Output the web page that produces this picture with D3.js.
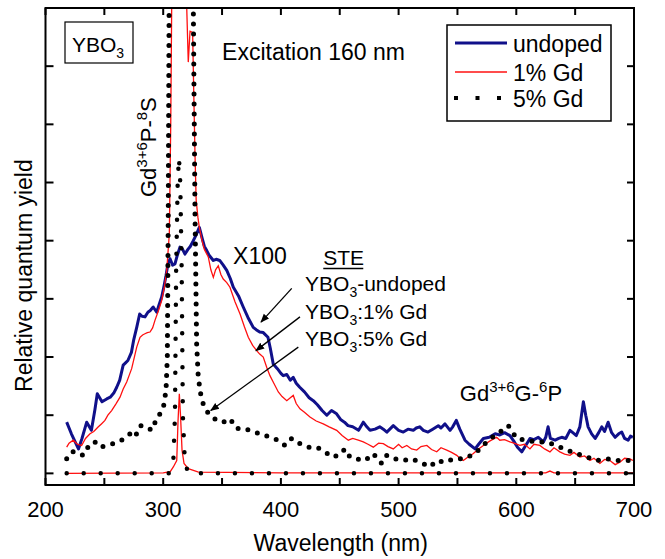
<!DOCTYPE html>
<html>
<head>
<meta charset="utf-8">
<script src="https://cdn.jsdelivr.net/npm/d3@7"></script>
<style>
  body { margin: 0; background: #fff; }
  text { font-family: "Liberation Sans", Arial, sans-serif; fill: #000; }
</style>
</head>
<body>
<div id="chart"></div>
<script>
// x ticks, y ticks (no labels on y)
var xTicks = [200, 250, 300, 350, 400, 450, 500, 550, 600, 650, 700];
var xLabels = [200, 300, 400, 500, 600, 700];
var yTicks = [0, 1, 2, 3, 4, 5, 6, 7, 8];

// YBO3 undoped, x100 (nm, yield)
var undoped = [[218,0.88],[222,0.68],[225,0.55],[228,0.42],[231,0.6],[235,0.88],[239,0.74],[242,1.1],[244,1.37],[246,1.3],[248,1.23],[252,1.28],[255,1.31],[258,1.38],[260.5,1.48],[263,1.6],[266,1.86],[268,1.9],[270,1.94],[273,2.08],[275,2.3],[277.5,2.51],[280,2.74],[282,2.7],[284.5,2.69],[287,2.77],[289,2.8],[291.5,2.86],[294.5,2.77],[296.5,2.9],[298.7,3.03],[300.5,3.2],[302.4,3.4],[304,3.6],[305.8,3.69],[308,3.58],[310,3.6],[312,3.75],[314.3,3.89],[316.5,3.85],[318.5,3.77],[321,3.85],[323,3.9],[325.6,4.0],[328,4.1],[330.7,4.23],[333,4.05],[335,3.9],[337,3.83],[339,3.75],[342.6,3.66],[345,3.68],[348,3.66],[351,3.58],[354,3.49],[357,3.35],[359.6,3.2],[364,3.05],[368,2.86],[372,2.68],[376.5,2.51],[379,2.47],[382,2.43],[385,2.42],[389,2.34],[391,2.15],[393.5,1.88],[397,1.8],[400,1.72],[402,1.68],[405,1.7],[408,1.6],[410.5,1.65],[413,1.55],[416,1.48],[420,1.4],[424,1.3],[427.5,1.25],[431,1.18],[435,1.08],[439,1.0],[443,1.08],[447,1.03],[451,0.92],[454,0.88],[457,0.82],[461,0.8],[466,0.74],[470,0.88],[473,0.8],[475.7,0.74],[480,0.76],[484,0.8],[487,0.76],[490,0.71],[495.5,0.82],[500,0.74],[504,0.71],[508,0.76],[512.5,0.74],[515,0.78],[518,0.8],[521,0.74],[525,0.71],[529,0.76],[533.7,0.82],[536,0.78],[539.4,0.85],[543.7,0.74],[546,0.8],[549,0.91],[552,0.76],[556.4,0.57],[560,0.5],[565,0.42],[568,0.5],[572,0.6],[577,0.62],[582,0.68],[586,0.66],[590,0.7],[594.6,0.65],[598,0.55],[601,0.45],[604.6,0.37],[608,0.48],[611.6,0.6],[615,0.58],[618.7,0.62],[623,0.54],[625,0.62],[627,0.8],[629,0.6],[633,0.57],[636,0.6],[638.6,0.62],[642,0.6],[645.6,0.74],[648,0.7],[651,0.65],[654,0.8],[657,1.23],[659,1.0],[661,0.8],[664,0.68],[667,0.6],[670,0.7],[672.6,0.8],[675,0.72],[678,0.88],[681,0.7],[684,0.62],[687,0.68],[689.6,0.71],[692,0.6],[695,0.57],[697,0.64],[699,0.62]];

// YBO3:1% Gd, x100
var gd1 = [[218,0.45],[220,0.52],[223.6,0.57],[227,0.5],[230.7,0.48],[234,0.6],[237.8,0.68],[241,0.72],[244.9,0.8],[247.5,0.85],[250.5,0.91],[253,1.0],[256.2,1.08],[260,1.2],[263.3,1.31],[266,1.45],[269,1.57],[271,1.68],[273.2,1.8],[275.5,2.0],[277.5,2.17],[280.3,2.34],[282.5,2.38],[284.5,2.4],[286.5,2.42],[288.8,2.43],[291,2.5],[293,2.63],[296,2.8],[298.7,2.97],[301,3.2],[303,3.49],[305.2,4.12],[306.4,6.0],[307.2,8.0],[308.5,12],[318.5,12],[320,8.0],[321.3,7.07],[322.8,7.6],[325,7.58],[326,6.5],[327,5.5],[328,4.7],[329.5,4.4],[330.7,4.23],[333,4.0],[335,3.85],[338.3,3.72],[340.5,3.5],[342.6,3.37],[344.5,3.5],[346.8,3.57],[349,3.42],[351,3.34],[354,3.28],[356.7,3.2],[361,2.95],[365.3,2.74],[369,2.52],[372.3,2.34],[376,2.2],[379.4,2.11],[382,2.05],[385,2.0],[388,1.82],[390.7,1.68],[394,1.55],[397.8,1.4],[401,1.32],[405,1.25],[408,1.3],[410.5,1.34],[413,1.2],[416.2,1.11],[420,1.05],[424.7,0.97],[430,0.9],[436,0.85],[441,0.8],[447.4,0.74],[452,0.65],[457.3,0.57],[461,0.6],[465.8,0.57],[470,0.54],[474,0.5],[478.5,0.45],[483,0.52],[487,0.51],[491,0.46],[495.5,0.42],[500,0.5],[503,0.44],[507,0.48],[511,0.42],[515.4,0.4],[519,0.46],[524,0.48],[528,0.41],[532.4,0.37],[536,0.44],[540.9,0.4],[545,0.36],[549.4,0.31],[552,0.26],[555,0.22],[559,0.28],[563.5,0.34],[568,0.42],[572,0.48],[577,0.55],[583.3,0.62],[586,0.57],[590,0.58],[594.6,0.54],[598,0.52],[603,0.48],[607,0.5],[611.6,0.42],[615,0.5],[620,0.48],[624,0.42],[628.6,0.37],[632,0.44],[637,0.37],[641,0.33],[645.6,0.31],[649,0.36],[654,0.28],[658,0.3],[662.6,0.22],[666,0.26],[671,0.17],[675,0.24],[679.5,0.22],[684,0.15],[688,0.19],[692,0.26],[696.6,0.25],[699,0.22]];

// YBO3:1% Gd, unscaled
var gd1Raw = [[218,0],[300,0.01],[306,0.03],[308.6,0.11],[311.5,0.22],[312.6,0.9],[313.7,1.37],[314.7,1.0],[316,0.4],[317.7,0.17],[321.3,0.08],[330,0.02],[400,0.01],[600,0.01],[625,0.01],[628.6,0.04],[632,0.01],[700,0.01]];

// YBO3:5% Gd, x100
var gd5 = [[218,0.25],[222.3,0.37],[226.5,0.37],[232,0.31],[237.8,0.51],[242,0.54],[246.3,0.45],[252,0.48],[257.6,0.51],[264.7,0.57],[271.8,0.68],[276,0.62],[280.3,0.82],[286,0.8],[290.2,0.74],[294.5,0.94],[300,1.11],[302.4,1.43],[303.5,2.0],[304.3,4.5],[305,8],[306,12],[324,12],[325.6,8],[327,4.5],[328.4,2.23],[329.8,1.65],[332.7,1.25],[338.3,1.03],[345.5,0.91],[351,0.88],[356.7,0.94],[362.4,0.77],[369.5,0.77],[376.5,0.71],[383.7,0.68],[390.7,0.62],[397.8,0.57],[403.5,0.48],[409.2,0.6],[416.2,0.51],[423.3,0.45],[430.4,0.45],[437.5,0.37],[443.2,0.28],[448.8,0.31],[454.5,0.42],[458.7,0.28],[464.4,0.25],[471.5,0.22],[478.5,0.34],[485.6,0.17],[490,0.31],[497,0.25],[504,0.22],[511,0.25],[518.2,0.19],[526.7,0.11],[532.4,0.22],[539.4,0.19],[546.5,0.25],[553.6,0.25],[559.2,0.28],[566.3,0.37],[574.8,0.54],[583.3,0.68],[586,0.71],[593.2,0.82],[600.3,0.6],[608.8,0.57],[617.3,0.54],[625.8,0.54],[634.3,0.48],[642.8,0.4],[651.3,0.34],[659.8,0.28],[668.3,0.22],[676.8,0.25],[685.3,0.22],[693.8,0.22],[699.4,0.22]];

// YBO3:5% Gd, unscaled
var gd5Raw = [[218,0],[305,0],[308.5,0.15],[310,1.0],[311,3.5],[312.3,5.0],[313.4,5.43],[314.5,5.0],[315.7,3.5],[316.7,1.0],[318.5,0.15],[322,0],[700,0]];

var legendNames = ['undoped', '1% Gd', '5% Gd'];
var steLabels = ['-undoped', ':1% Gd', ':5% Gd'];

var W = 665, H = 559;
var BLUE = '#10108a', RED = '#ff1010';
var FONT = 23;

var x = d3.scaleLinear().domain([200, 700]).range([45.5, 634]);
var y = d3.scaleLinear().domain([-0.2, 8]).range([485, 8]);

var svg = d3.select('#chart').append('svg')
    .attr('width', W)
    .attr('height', H);

svg.append('defs').append('clipPath')
    .attr('id', 'plot-clip')
    .append('rect')
    .attr('x', x(200)).attr('y', y(8))
    .attr('width', x(700) - x(200)).attr('height', y(-0.2) - y(8));

var marker = svg.select('defs').append('marker')
    .attr('id', 'arrow')
    .attr('viewBox', '0 0 10 10')
    .attr('refX', 9).attr('refY', 5)
    .attr('markerWidth', 9).attr('markerHeight', 9)
    .attr('markerUnits', 'userSpaceOnUse')
    .attr('orient', 'auto');
marker.append('path').attr('d', 'M0,1 L10,5 L0,9 Z').attr('fill', '#000');

var line = d3.line()
    .x((d) => x(d[0]))
    .y((d) => y(d[1]));

var curves = svg.append('g').attr('clip-path', 'url(#plot-clip)');

curves.append('path').datum(undoped)
    .attr('d', line).attr('fill', 'none')
    .attr('stroke', BLUE).attr('stroke-width', 3)
    .attr('stroke-linejoin', 'round');

curves.append('path').datum(gd1)
    .attr('d', line).attr('fill', 'none')
    .attr('stroke', RED).attr('stroke-width', 1.3);

curves.append('path').datum(gd1Raw)
    .attr('d', line).attr('fill', 'none')
    .attr('stroke', RED).attr('stroke-width', 1.3);

curves.append('path').datum(gd5)
    .attr('d', line).attr('fill', 'none')
    .attr('stroke', '#000').attr('stroke-width', 5)
    .attr('stroke-linecap', 'round')
    .attr('stroke-dasharray', '0,10');

curves.append('path').datum(gd5Raw)
    .attr('d', line).attr('fill', 'none')
    .attr('stroke', '#000').attr('stroke-width', 4.5)
    .attr('stroke-linecap', 'round')
    .attr('stroke-dasharray', '0,17');

// frame and ticks
var axes = svg.append('g').attr('stroke', '#000').attr('stroke-width', 2);
axes.append('rect')
    .attr('x', x(200)).attr('y', y(8))
    .attr('width', x(700) - x(200)).attr('height', y(-0.2) - y(8))
    .attr('fill', 'none');

xTicks.forEach((t) => {
    axes.append('line').attr('x1', x(t)).attr('x2', x(t)).attr('y1', y(-0.2)).attr('y2', y(-0.2) - 7);
    axes.append('line').attr('x1', x(t)).attr('x2', x(t)).attr('y1', y(8)).attr('y2', y(8) + 7);
});
yTicks.forEach((t) => {
    axes.append('line').attr('x1', x(200)).attr('x2', x(200) + 8).attr('y1', y(t)).attr('y2', y(t));
    axes.append('line').attr('x1', x(700)).attr('x2', x(700) - 7).attr('y1', y(t)).attr('y2', y(t));
});

svg.selectAll('text.xlabel')
    .data(xLabels)
    .enter()
    .append('text')
    .attr('class', 'xlabel')
    .attr('x', (d) => x(d))
    .attr('y', 517)
    .attr('text-anchor', 'middle')
    .style('font-size', '22px')
    .text((d) => d);

svg.append('text')
    .attr('x', x(450) + 1).attr('y', 551)
    .attr('text-anchor', 'middle')
    .style('font-size', FONT + 'px')
    .text('Wavelength (nm)');

svg.append('text')
    .attr('transform', `translate(32,${y(3.4)})rotate(-90)`)
    .attr('text-anchor', 'middle')
    .style('font-size', FONT + 'px')
    .text('Relative quantum yield');

// YBO3 box
svg.append('rect')
    .attr('x', 65).attr('y', 22).attr('width', 68).attr('height', 41)
    .attr('fill', 'none').attr('stroke', '#000').attr('stroke-width', 1.2);
var ybo = svg.append('text').attr('x', 72).attr('y', 52).style('font-size', '21px');
ybo.append('tspan').text('YBO');
ybo.append('tspan').attr('dy', 6).style('font-size', '14px').text('3');

svg.append('text')
    .attr('x', x(350)).attr('y', 60)
    .style('font-size', FONT + 'px')
    .text('Excitation 160 nm');

// legend
var legend = svg.append('g');
legend.append('rect')
    .attr('x', 447).attr('y', 25).attr('width', 164).attr('height', 96)
    .attr('fill', '#fff').attr('stroke', '#000').attr('stroke-width', 1.5);
var legendY = [43, 72, 98];
legend.append('line').attr('x1', 455).attr('x2', 507).attr('y1', legendY[0]).attr('y2', legendY[0])
    .attr('stroke', BLUE).attr('stroke-width', 3);
legend.append('line').attr('x1', 455).attr('x2', 507).attr('y1', legendY[1]).attr('y2', legendY[1])
    .attr('stroke', RED).attr('stroke-width', 1.3);
legend.append('line').attr('x1', 454).attr('x2', 508).attr('y1', legendY[2]).attr('y2', legendY[2])
    .attr('stroke', '#000').attr('stroke-width', 4)
    .attr('stroke-dasharray', '4,17.5');
legend.selectAll('text')
    .data(legendNames)
    .enter()
    .append('text')
    .attr('x', 513)
    .attr('y', (d, i) => legendY[i] + 8.5)
    .style('font-size', FONT + 'px')
    .text((d) => d);

// Gd3+ 6P-8S, vertical
var gdP = svg.append('text')
    .attr('transform', `translate(156,${y(4.75)})rotate(-90)`)
    .style('font-size', '22px');
gdP.append('tspan').text('Gd');
gdP.append('tspan').attr('dy', -9).style('font-size', '15px').text('3+6');
gdP.append('tspan').attr('dy', 9).text('P-');
gdP.append('tspan').attr('dy', -9).style('font-size', '15px').text('8');
gdP.append('tspan').attr('dy', 9).text('S');

svg.append('text')
    .attr('x', x(359.4)).attr('y', 264)
    .style('font-size', FONT + 'px')
    .text('X100');

svg.append('text')
    .attr('x', x(436)).attr('y', 265)
    .style('font-size', '21px')
    .text('STE');
svg.append('line')
    .attr('x1', x(436)).attr('x2', x(436) + 40)
    .attr('y1', 268.5).attr('y2', 268.5)
    .attr('stroke', '#000').attr('stroke-width', 1.3);

var steY = [291, 319, 346];
steLabels.forEach((s, i) => {
    var t = svg.append('text')
        .attr('x', x(420.5)).attr('y', steY[i])
        .style('font-size', '21px');
    t.append('tspan').text('YBO');
    t.append('tspan').attr('dy', 6).style('font-size', '14px').text('3');
    t.append('tspan').attr('dy', -6).text(s);
});

// arrows (nm, yield)
var arrows = [
    [[409.2, 3.18], [383.1, 2.6]],
    [[416.2, 2.69], [378.8, 2.11]],
    [[414.8, 2.17], [340.4, 1.08]]
];
arrows.forEach((a) => {
    svg.append('line')
        .attr('x1', x(a[0][0])).attr('y1', y(a[0][1]))
        .attr('x2', x(a[1][0])).attr('y2', y(a[1][1]))
        .attr('stroke', '#000').attr('stroke-width', 1.3)
        .attr('marker-end', 'url(#arrow)');
});

// Gd3+ 6G-6P
var gdG = svg.append('text')
    .attr('x', x(552)).attr('y', 401)
    .style('font-size', '22px');
gdG.append('tspan').text('Gd');
gdG.append('tspan').attr('dy', -9).style('font-size', '15px').text('3+6');
gdG.append('tspan').attr('dy', 9).text('G-');
gdG.append('tspan').attr('dy', -9).style('font-size', '15px').text('6');
gdG.append('tspan').attr('dy', 9).text('P');
</script>
</body>
</html>
